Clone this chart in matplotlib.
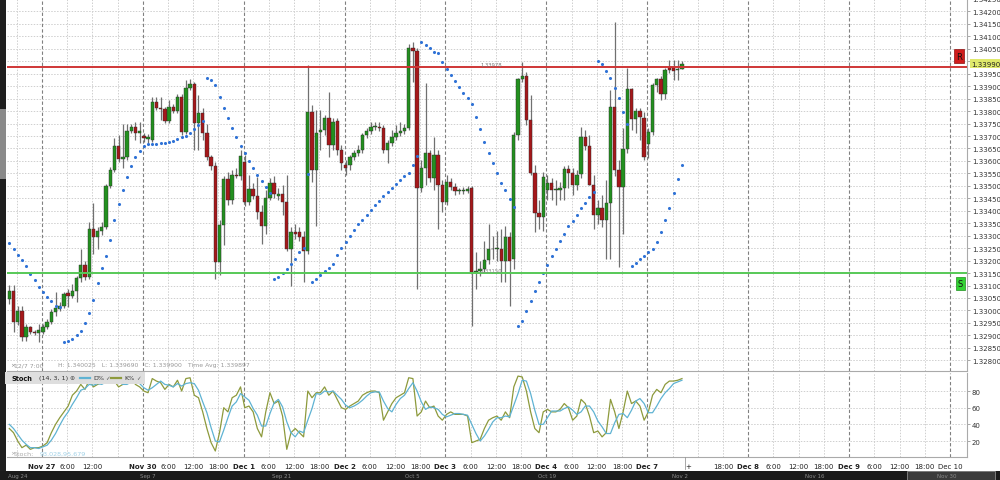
import numpy as np
import matplotlib.pyplot as plt
from matplotlib.patches import Rectangle

W, H = 1000, 481


def fx(px):
    return px / W


def fy(py):
    return 1 - py / H


# hourly candles
open_ = [1.33045, 1.33077, 1.32953, 1.32997, 1.32893, 1.32933, 1.32913, 1.32909, 1.32913, 1.32933,
         1.32953, 1.32993, 1.33005, 1.33017, 1.33069, 1.33057, 1.33077, 1.33129, 1.33181, 1.33133,
         1.33325, 1.33293, 1.33317, 1.33333, 1.33501, 1.33565, 1.33661, 1.33609, 1.33617, 1.33721,
         1.33737, 1.33713, 1.33701, 1.33689, 1.33685, 1.33837, 1.33813, 1.33809, 1.33761, 1.33817,
         1.33801, 1.33857, 1.33717, 1.33893, 1.33909, 1.33753, 1.33793, 1.33713, 1.33617, 1.33581,
         1.33193, 1.33341, 1.33529, 1.33445, 1.33545, 1.33541, 1.33597, 1.33437, 1.33489, 1.33461,
         1.33397, 1.33337, 1.33453, 1.33513, 1.33461, 1.33469, 1.33437, 1.33245, 1.33313, 1.33313,
         1.33293, 1.33237, 1.33797, 1.33565, 1.33717, 1.33725, 1.33773, 1.33665, 1.33761, 1.33645,
         1.33585, 1.33585, 1.33617, 1.33633, 1.33645, 1.33705, 1.33721, 1.33737, 1.33737, 1.33733,
         1.33645, 1.33673, 1.33697, 1.33713, 1.33721, 1.33733, 1.34053, 1.34041, 1.33493, 1.33573,
         1.33633, 1.33533, 1.33625, 1.33505, 1.33437, 1.33517, 1.33497, 1.33481, 1.33481, 1.33481,
         1.33493, 1.33153, 1.33157, 1.33165, 1.33201, 1.33245, 1.33245, 1.33245, 1.33197, 1.33293,
         1.33205, 1.33705, 1.33929, 1.33941, 1.33765, 1.33553, 1.33393, 1.33377, 1.33485, 1.33513,
         1.33485, 1.33485, 1.33493, 1.33569, 1.33553, 1.33505, 1.33549, 1.33697, 1.33661, 1.33505,
         1.33385, 1.33413, 1.33365, 1.33433, 1.33817, 1.33565, 1.33497, 1.33649, 1.33889, 1.33769,
         1.33801, 1.33773, 1.33669, 1.33717, 1.33905, 1.33929, 1.33869, 1.33977, 1.33977, 1.33965,
         1.33970]
high = [1.33101, 1.33101, 1.33017, 1.33017, 1.32945, 1.32937, 1.32921, 1.32945, 1.32945, 1.32965,
        1.33005, 1.33073, 1.33033, 1.33073, 1.33085, 1.33105, 1.33137, 1.33245, 1.33197, 1.33357,
        1.33433, 1.33333, 1.33353, 1.33509, 1.33577, 1.33693, 1.33705, 1.33749, 1.33749, 1.33749,
        1.33757, 1.33757, 1.33713, 1.33709, 1.33857, 1.33857, 1.33857, 1.33817, 1.33845, 1.33829,
        1.33869, 1.33869, 1.33925, 1.33929, 1.33917, 1.33865, 1.33813, 1.33749, 1.33625, 1.33597,
        1.33365, 1.33541, 1.33557, 1.33565, 1.33573, 1.33645, 1.33625, 1.33545, 1.33513, 1.33537,
        1.33425, 1.33485, 1.33533, 1.33541, 1.33493, 1.33505, 1.33545, 1.33333, 1.33345, 1.33333,
        1.33317, 1.33985, 1.33825, 1.33805, 1.33805, 1.33785, 1.33877, 1.33773, 1.33773, 1.33665,
        1.33605, 1.33625, 1.33645, 1.33665, 1.33713, 1.33733, 1.33757, 1.33757, 1.33757, 1.33745,
        1.33685, 1.33725, 1.33745, 1.33757, 1.33749, 1.34069, 1.34077, 1.34053, 1.33605, 1.33913,
        1.33645, 1.33697, 1.33645, 1.33525, 1.33545, 1.33533, 1.33513, 1.33493, 1.33497, 1.33501,
        1.33501, 1.33233, 1.33197, 1.33277, 1.33345, 1.33297, 1.33317, 1.33325, 1.33337, 1.33313,
        1.33717, 1.33933, 1.33997, 1.33957, 1.33865, 1.33585, 1.33445, 1.33557, 1.33545, 1.33533,
        1.33525, 1.33517, 1.33581, 1.33585, 1.33573, 1.33565, 1.33737, 1.33725, 1.33705, 1.33545,
        1.33445, 1.33465, 1.33525, 1.33885, 1.34157, 1.33605, 1.33733, 1.33973, 1.33893, 1.33813,
        1.33813, 1.33797, 1.33733, 1.33913, 1.33933, 1.33941, 1.33973, 1.34005, 1.34005, 1.34005,
        1.34003]
low = [1.33025, 1.32913, 1.32941, 1.32877, 1.32877, 1.32905, 1.32901, 1.32873, 1.32905, 1.32925,
       1.32945, 1.32977, 1.32997, 1.33009, 1.33013, 1.33049, 1.33033, 1.33113, 1.33121, 1.33125,
       1.33225, 1.33245, 1.33301, 1.33325, 1.33493, 1.33557, 1.33597, 1.33573, 1.33605, 1.33713,
       1.33685, 1.33673, 1.33677, 1.33673, 1.33677, 1.33805, 1.33765, 1.33753, 1.33753, 1.33793,
       1.33793, 1.33705, 1.33709, 1.33885, 1.33645, 1.33645, 1.33685, 1.33605, 1.33565, 1.33125,
       1.33141, 1.33261, 1.33425, 1.33429, 1.33533, 1.33525, 1.33421, 1.33425, 1.33449, 1.33369,
       1.33265, 1.33305, 1.33445, 1.33453, 1.33445, 1.33385, 1.33237, 1.33097, 1.33285, 1.33277,
       1.33113, 1.33225, 1.33517, 1.33337, 1.33645, 1.33705, 1.33617, 1.33645, 1.33625, 1.33565,
       1.33545, 1.33565, 1.33605, 1.33621, 1.33633, 1.33693, 1.33709, 1.33725, 1.33721, 1.33633,
       1.33593, 1.33661, 1.33685, 1.33701, 1.33709, 1.33725, 1.33917, 1.33085, 1.33477, 1.33505,
       1.33517, 1.33485, 1.33325, 1.33397, 1.33425, 1.33485, 1.33465, 1.33469, 1.33469, 1.33473,
       1.32937, 1.33085, 1.33137, 1.33153, 1.33185, 1.33205, 1.33197, 1.33113, 1.33113, 1.33017,
       1.33165, 1.33685, 1.33917, 1.33745, 1.33545, 1.33313, 1.33325, 1.33317, 1.33445, 1.33445,
       1.33425, 1.33445, 1.33445, 1.33493, 1.33465, 1.33485, 1.33533, 1.33645, 1.33505, 1.33325,
       1.33345, 1.33333, 1.33205, 1.33205, 1.33541, 1.33173, 1.33305, 1.33633, 1.33725, 1.33713,
       1.33685, 1.33605, 1.33613, 1.33705, 1.33877, 1.33845, 1.33849, 1.33953, 1.33925, 1.33925,
       1.33969]
close = [1.33077, 1.32953, 1.32997, 1.32893, 1.32933, 1.32913, 1.32909, 1.32921, 1.32933, 1.32953,
         1.32993, 1.33009, 1.33017, 1.33065, 1.33057, 1.33077, 1.33129, 1.33181, 1.33133, 1.33325,
         1.33293, 1.33317, 1.33333, 1.33501, 1.33565, 1.33661, 1.33609, 1.33617, 1.33721, 1.33737,
         1.33713, 1.33721, 1.33693, 1.33697, 1.33837, 1.33813, 1.33809, 1.33761, 1.33817, 1.33801,
         1.33857, 1.33717, 1.33893, 1.33909, 1.33753, 1.33793, 1.33713, 1.33617, 1.33581, 1.33193,
         1.33341, 1.33529, 1.33445, 1.33545, 1.33541, 1.33621, 1.33437, 1.33489, 1.33461, 1.33397,
         1.33337, 1.33453, 1.33513, 1.33469, 1.33469, 1.33437, 1.33245, 1.33313, 1.33305, 1.33293,
         1.33237, 1.33797, 1.33565, 1.33713, 1.33725, 1.33773, 1.33665, 1.33757, 1.33645, 1.33593,
         1.33573, 1.33617, 1.33633, 1.33645, 1.33705, 1.33721, 1.33737, 1.33741, 1.33733, 1.33645,
         1.33673, 1.33697, 1.33713, 1.33721, 1.33733, 1.34053, 1.34041, 1.33493, 1.33573, 1.33633,
         1.33533, 1.33625, 1.33505, 1.33437, 1.33517, 1.33497, 1.33481, 1.33481, 1.33481, 1.33489,
         1.33153, 1.33157, 1.33165, 1.33201, 1.33245, 1.33245, 1.33249, 1.33197, 1.33293, 1.33197,
         1.33705, 1.33929, 1.33941, 1.33765, 1.33553, 1.33393, 1.33377, 1.33537, 1.33513, 1.33485,
         1.33485, 1.33493, 1.33569, 1.33553, 1.33505, 1.33545, 1.33697, 1.33661, 1.33505, 1.33385,
         1.33413, 1.33365, 1.33433, 1.33817, 1.33565, 1.33497, 1.33649, 1.33889, 1.33769, 1.33801,
         1.33777, 1.33617, 1.33717, 1.33905, 1.33929, 1.33869, 1.33965, 1.33965, 1.33961, 1.33965,
         1.33990]

# parabolic SAR dots
sar = [1.33269, 1.33245, 1.33221, 1.33201, 1.33177, 1.33145, 1.33121, 1.33093, 1.33073, 1.33053,
       1.33037, 1.33017, 1.33013, 1.32873, 1.32877, 1.32885, 1.32901, 1.32917, 1.32949, 1.32989,
       1.33041, 1.33109, 1.33169, 1.33217, 1.33281, 1.33365, 1.33429, 1.33485, 1.33537, 1.33581,
       1.33617, 1.33641, 1.33661, 1.33669, 1.33669, 1.33669, 1.33673, 1.33673, 1.33677, 1.33681,
       1.33689, 1.33697, 1.33701, 1.33713, 1.33729, 1.33745, 1.33761, 1.33933, 1.33925, 1.33905,
       1.33857, 1.33813, 1.33773, 1.33733, 1.33697, 1.33661, 1.33633, 1.33601, 1.33573, 1.33545,
       1.33521, 1.33497, 1.33473, 1.33125, 1.33133, 1.33149, 1.33165, 1.33185, 1.33205, 1.33233,
       1.33249, 1.33549, 1.33113, 1.33125, 1.33141, 1.33157, 1.33169, 1.33185, 1.33221, 1.33249,
       1.33273, 1.33297, 1.33321, 1.33345, 1.33365, 1.33385, 1.33405, 1.33425, 1.33441, 1.33461,
       1.33477, 1.33493, 1.33509, 1.33525, 1.33541, 1.33553, 1.33585, 1.33621, 1.34077, 1.34065,
       1.34053, 1.34037, 1.34033, 1.33997, 1.33969, 1.33945, 1.33921, 1.33897, 1.33873, 1.33853,
       1.33829, 1.33777, 1.33729, 1.33677, 1.33633, 1.33593, 1.33553, 1.33513, 1.33485, 1.33449,
       1.33417, 1.32937, 1.32957, 1.32997, 1.33037, 1.33077, 1.33113, 1.33149, 1.33181, 1.33217,
       1.33245, 1.33277, 1.33305, 1.33337, 1.33361, 1.33385, 1.33413, 1.33433, 1.33457, 1.33477,
       1.34001, 1.33989, 1.33961, 1.33933, 1.33893, 1.33853, 1.33797, 1.33749, 1.33177, 1.33189,
       1.33205, 1.33217, 1.33233, 1.33245, 1.33273, 1.33313, 1.33365, 1.33413, 1.33473, 1.33529,
       1.33585]

# stochastic (14, 3, 1)
stoch_k = [35, 30, 20, 12, 15, 10, 12, 12, 14, 18,
           30, 40, 48, 55, 62, 75, 80, 88, 82, 93,
           85, 88, 90, 95, 96, 92, 85, 88, 90, 95,
           88, 85, 80, 78, 95, 92, 90, 82, 88, 85,
           93, 80, 95, 96, 75, 72, 55, 35, 18, 8,
           30, 60, 55, 72, 75, 85, 60, 62, 55, 35,
           25, 55, 78, 65, 68, 50, 10, 30, 35, 30,
           25, 80, 72, 78, 78, 85, 75, 80, 70, 60,
           58, 62, 65, 68, 75, 78, 80, 80, 78, 45,
           55, 65, 72, 75, 78, 96, 95, 50, 55, 68,
           60, 62, 50, 45, 52, 55, 52, 52, 52, 50,
           18, 20, 22, 35, 45, 48, 50, 45, 55, 48,
           85, 98, 97, 80, 55, 35, 30, 55, 58, 55,
           55, 58, 65, 60, 45, 50, 70, 65, 50, 30,
           32, 25, 30, 70, 55, 35, 55, 80, 65, 68,
           62, 45, 55, 75, 82, 78, 88, 92, 92, 93,
           95]
stoch_d = [40, 35, 28, 21, 16, 12, 12, 11, 13, 15,
           21, 29, 39, 48, 55, 64, 72, 81, 83, 88,
           87, 89, 88, 91, 94, 94, 91, 88, 88, 91,
           91, 89, 84, 81, 84, 88, 92, 88, 87, 85,
           89, 86, 89, 90, 89, 81, 67, 54, 36, 20,
           19, 33, 48, 62, 67, 77, 73, 69, 59, 51,
           38, 38, 53, 66, 70, 61, 43, 30, 25, 32,
           30, 45, 59, 77, 76, 80, 79, 80, 75, 70,
           63, 60, 62, 65, 69, 74, 78, 79, 79, 68,
           59, 55, 64, 71, 75, 83, 90, 80, 67, 58,
           61, 60, 58, 52, 49, 51, 53, 53, 52, 51,
           40, 29, 20, 26, 34, 43, 48, 48, 50, 49,
           63, 77, 93, 92, 77, 57, 40, 40, 48, 56,
           56, 56, 59, 61, 57, 52, 55, 62, 62, 55,
           44, 37, 29, 29, 42, 52, 53, 48, 57, 68,
           71, 65, 54, 54, 62, 71, 78, 83, 89, 91,
           93]

resistance = 1.33978
support = 1.33150
last_price = 1.33990

day_labels = ['Nov 27', 'Nov 30', 'Dec 1', 'Dec 2', 'Dec 3', 'Dec 4', 'Dec 7', 'Dec 8', 'Dec 9', 'Dec 10']
hour_labels = ['6:00', '12:00', '18:00']
nav_labels = ['Aug 24', 'Sep 7', 'Sep 21', 'Oct 5', 'Oct 19', 'Nov 2', 'Nov 16', 'Nov 30']
nav_px = [8, 140, 272, 405, 538, 672, 805, 937]

GREEN = '#23901f'
RED = '#a5181a'
SAR_BLUE = '#2f72d6'
K_COL = '#8d9a3c'
D_COL = '#5fb3d3'
FS = 5.0

fig = plt.figure(figsize=(10, 4.81), dpi=100)
fig.patch.set_facecolor('white')

x0, x1 = -0.55, 227.8
day0 = 7.75

ax = fig.add_axes([fx(7), fy(372), fx(960), 372 / H])
ax2 = fig.add_axes([fx(7), fy(458), fx(960), 84 / H])

# ---------- price panel ----------
ax.set_xlim(x0, x1)
ax.set_ylim(1.32757, 1.34245)
price_ticks = np.round(np.arange(1.3280, 1.34251, 0.0005), 5)
ax.set_yticks(price_ticks)
ax.set_yticklabels(['' if abs(p - 1.34) < 1e-6 else '%.5f' % p for p in price_ticks])
ax.yaxis.tick_right()
ax.tick_params(axis='y', length=2, width=0.6, color='#999', pad=1.5, labelsize=FS, labelcolor='#333')
ax.set_xticks([])
for p in price_ticks:
    ax.axhline(p, color='#cfcfcf', lw=0.7, ls=(0, (1.5, 1.5)), zorder=0)

for a in (ax, ax2):
    for m in range(0, 38):
        xv = day0 + 6 * m - 6
        if m % 4 == 1:
            a.axvline(xv, color='#808080', lw=0.8, ls=(0, (3, 2)), zorder=0)
        else:
            a.axvline(xv, color='#cfcfcf', lw=0.7, ls=(0, (1.5, 1.5)), zorder=0)
    for s in ('top', 'left'):
        a.spines[s].set_visible(False)
    a.spines['right'].set_color('#aaaaaa')
    a.spines['bottom'].set_color('#aaaaaa')

xs = np.arange(len(open_))
o = np.array(open_)
c = np.array(close)
cols = [GREEN if cc >= oo else RED for oo, cc in zip(o, c)]
ax.vlines(xs, low, high, colors='#707070', lw=0.9, zorder=2)
ax.bar(xs, np.maximum(np.abs(c - o), 0.00003), bottom=np.minimum(o, c), width=0.8,
       color=cols, edgecolor='#2b2b2b', linewidth=0.3, zorder=3)

ax.scatter(np.arange(len(sar)), sar, s=5, color=SAR_BLUE, linewidths=0, zorder=4)

ax.axhline(resistance, color='#cf3636', lw=1.4, zorder=5)
ax.axhline(support, color='#57c957', lw=1.4, zorder=5)
ax.text(112, resistance + 0.00004, '1.33978', fontsize=3.8, color='#777', zorder=6)
ax.text(112, support + 0.00004, '1.33150', fontsize=3.8, color='#888', zorder=6)

# R / S markers and last price tag
ax.text(225.9, 1.34021, 'R', fontsize=6, ha='center', va='center', color='#111', zorder=7,
        bbox=dict(boxstyle='square,pad=0.25', fc='#d01c1c', ec='#8a1010', lw=0.5))
ax.text(226.2, 1.33109, 'S', fontsize=6, ha='center', va='center', color='#111', zorder=7,
        bbox=dict(boxstyle='square,pad=0.25', fc='#33d233', ec='#1f8f1f', lw=0.5))
ax.text(1.0045, last_price, '%.5f' % last_price, transform=ax.get_yaxis_transform(),
        fontsize=FS, va='center', ha='left', color='#222', zorder=7, clip_on=False,
        bbox=dict(boxstyle='square,pad=0.2', fc='#dfe96c', ec='none'))

# info line
info_y = fy(366)
fig.text(fx(10), info_y, '\u00d7', fontsize=4.5, color='#888', va='center')
fig.text(fx(14), info_y, '12/7 7:00', fontsize=4.4, color='#999', va='center')
fig.text(fx(58), info_y, 'H: 1.340025   L: 1.339690   C: 1.339900   Time Avg: 1.339897',
         fontsize=4.4, color='#999', va='center')

# ---------- stochastic panel ----------
ax2.set_xlim(x0, x1)
ax2.set_ylim(0.8, 101.7)
ax2.set_yticks([20, 40, 60, 80])
ax2.yaxis.tick_right()
ax2.tick_params(axis='y', length=2, width=0.6, color='#999', pad=1.5, labelsize=FS, labelcolor='#333')
for v in (20, 40, 60, 80):
    ax2.axhline(v, color='#cfcfcf', lw=0.7, ls=(0, (1.5, 1.5)), zorder=0)
ax2.plot(np.arange(len(stoch_k)), stoch_k, color=K_COL, lw=0.9, zorder=3)
ax2.plot(np.arange(len(stoch_d)), stoch_d, color=D_COL, lw=0.9, zorder=3)

tick_pos, tick_lab, tick_bold = [], [], []
for k, day in enumerate(day_labels):
    base = day0 + 24 * k
    tick_pos.append(base)
    tick_lab.append(day)
    tick_bold.append(day != 'Dec 10')
    if day == 'Dec 10':
        break
    for j, hl in enumerate(hour_labels):
        if day == 'Nov 27' and hl == '18:00':
            continue
        if day == 'Dec 7' and hl in ('6:00', '12:00'):
            continue
        tick_pos.append(base + 6 * (j + 1))
        tick_lab.append(hl)
        tick_bold.append(False)
tick_pos.append(161.4)
tick_lab.append('+')
tick_bold.append(False)
ax2.set_xticks(tick_pos)
ax2.set_xticklabels(tick_lab)
ax2.tick_params(axis='x', length=0, pad=4, labelsize=FS, labelcolor='#222')
for lab, b in zip(ax2.get_xticklabels(), tick_bold):
    if b:
        lab.set_fontweight('bold')

# stoch header
fig.patches.append(Rectangle((fx(5), fy(385)), fx(140), 12 / H, transform=fig.transFigure,
                             fc='#dedede', ec='none', zorder=5))
hy = fy(379)
fig.text(fx(12), hy, 'Stoch', fontsize=4.8, fontweight='bold', color='#111', va='center', zorder=6)
fig.text(fx(39), hy, '(14, 3, 1)', fontsize=4.6, color='#333', va='center', zorder=6)
fig.text(fx(69), hy, '\u2295', fontsize=4.4, color='#555', va='center', zorder=6)
fig.lines.append(plt.Line2D([fx(80), fx(90)], [hy, hy], transform=fig.transFigure, color=D_COL, lw=1.6, zorder=6))
fig.text(fx(93), hy, 'D%', fontsize=4.6, color='#333', va='center', zorder=6)
fig.text(fx(105), hy, '\u2713', fontsize=4, color='#555', va='center', zorder=6)
fig.lines.append(plt.Line2D([fx(111), fx(121)], [hy, hy], transform=fig.transFigure, color=K_COL, lw=1.6, zorder=6))
fig.text(fx(124), hy, 'K%', fontsize=4.6, color='#333', va='center', zorder=6)
fig.text(fx(136), hy, '\u2713', fontsize=4, color='#555', va='center', zorder=6)

sy = fy(454)
fig.text(fx(10), sy, '\u00d7', fontsize=4.5, color='#aaa', va='center')
fig.text(fx(14), sy, 'Stoch:', fontsize=4.6, color='#aaa', va='center')
fig.text(fx(40), sy, '93.028,95.679', fontsize=4.6, color='#9fd0e6', va='center')

# ---------- frame pieces ----------
fig.patches.append(Rectangle((0, 0), fx(6), 1, transform=fig.transFigure, fc='#1f1f1f', ec='none'))
fig.patches.append(Rectangle((0, fy(180)), fx(6), 70 / H, transform=fig.transFigure, fc='#8a8a8a', ec='none'))
fig.patches.append(Rectangle((0, 0), 1, 9 / H, transform=fig.transFigure, fc='#1b1b1b', ec='none'))
fig.patches.append(Rectangle((fx(907), 0), fx(88), 9 / H, transform=fig.transFigure,
                             fc='#3b3b3b', ec='#8a8a8a', lw=0.6))
for lab, px in zip(nav_labels, nav_px):
    fig.text(fx(px), fy(476.5), lab, fontsize=4.0, color='#8a8a8a', va='center')
fig.lines.append(plt.Line2D([fx(685), fx(685)], [fy(470), fy(458)], transform=fig.transFigure,
                            color='#999', lw=0.6))

fig.savefig('out.png', dpi=100)
